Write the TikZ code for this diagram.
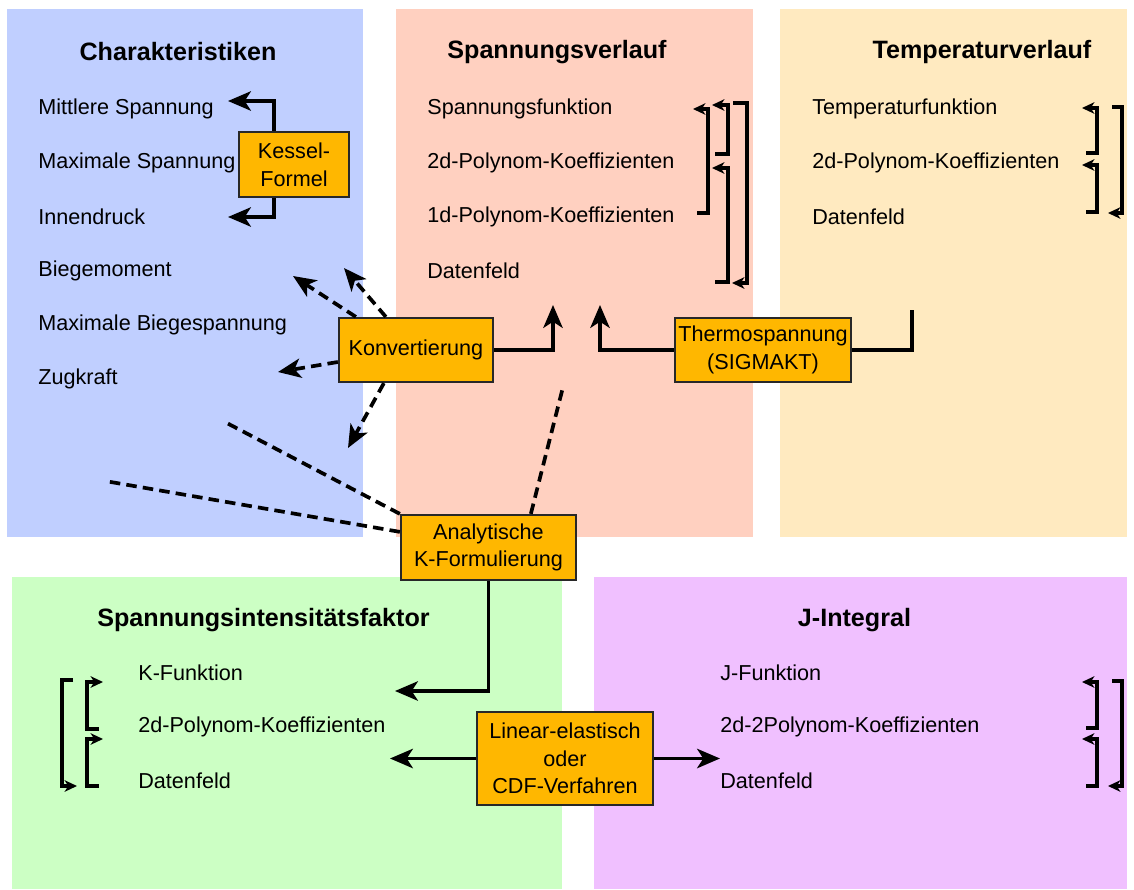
\documentclass[tikz,border=0pt]{standalone}
\usepackage{fontspec}
\setmainfont{Liberation Sans}
\usetikzlibrary{arrows.meta}
\definecolor{charblue}{RGB}{192,207,255}
\definecolor{spansalmon}{RGB}{255,208,192}
\definecolor{temptan}{RGB}{255,234,192}
\definecolor{sifgreen}{RGB}{204,255,196}
\definecolor{jintpurple}{RGB}{240,192,255}
\definecolor{procorange}{RGB}{255,183,0}
\definecolor{procline}{RGB}{40,40,40}
\tikzset{
	head/.style={font=\fontsize{14.3}{16}\selectfont\bfseries},
	item/.style={anchor=west, inner sep=0pt, font=\fontsize{12.3}{14}\selectfont},
	proc/.style={draw=procline, fill=procorange, line width=1.3pt, align=center, inner sep=2pt, font=\fontsize{12.3}{15.8}\selectfont},
	flow/.style={line width=2.1pt, -{Stealth[length=13pt,width=11pt,inset=3.5pt]}},
	conv/.style={flow, dash pattern=on 6pt off 3.5pt},
	link/.style={line width=2.1pt, dash pattern=on 6pt off 3.5pt},
	plain/.style={line width=2.1pt},
	brk/.style={line width=2pt, -{Stealth[length=7pt,width=6.5pt,inset=2pt]}}
}

\begin{document}
\begin{tikzpicture}[x=0.02cm, y=-0.02cm]
	\useasboundingbox (0,0) rectangle (1134,890);
	% panels
	\fill[charblue] (7,9) rectangle (363,537);
	\fill[spansalmon] (396,9) rectangle (753,537);
	\fill[temptan] (780,9) rectangle (1127,537);
	\fill[sifgreen] (12,577) rectangle (562,889);
	\fill[jintpurple] (594,577) rectangle (1127,889);

	% Charakteristiken
	\node[head] (chartitle) at (178,52) {Charakteristiken};
	\node[item] (ms) at (38,109) {Mittlere Spannung};
	\node[item] (mxs) at (38,163) {Maximale Spannung};
	\node[item] (idr) at (38,217) {Innendruck};
	\node[item] (bm) at (38,271) {Biegemoment};
	\node[item] (mbs) at (38,325) {Maximale Biegespannung};
	\node[item] (zk) at (38,379) {Zugkraft};

	% Spannungsverlauf
	\node[head] (spantitle) at (557,52) {Spannungsverlauf};
	\node[item] (sfkt) at (427,109) {Spannungsfunktion};
	\node[item] (spoly2) at (427,163) {2d-Polynom-Koeffizienten};
	\node[item] (spoly1) at (427,217) {1d-Polynom-Koeffizienten};
	\node[item] (sdat) at (427,271) {Datenfeld};

	% Temperaturverlauf
	\node[head] (temptitle) at (982,52) {Temperaturverlauf};
	\node[item] (tfkt) at (812,109) {Temperaturfunktion};
	\node[item] (tpoly) at (812,163) {2d-Polynom-Koeffizienten};
	\node[item] (tdat) at (812,217) {Datenfeld};

	% Spannungsintensitaetsfaktor
	\node[head] (siftitle) at (263.5,620) {Spannungsintensitätsfaktor};
	\node[item] (kfkt) at (138,673) {K-Funktion};
	\node[item] (kpoly) at (138,727) {2d-Polynom-Koeffizienten};
	\node[item] (kdat) at (138,781) {Datenfeld};

	% J-Integral
	\node[head] (jtitle) at (854.5,620) {J-Integral};
	\node[item] (jfkt) at (720,673) {J-Funktion};
	\node[item] (jpoly) at (720,727) {2d-2Polynom-Koeffizienten};
	\node[item] (jdat) at (720,781) {Datenfeld};

	% bracket ends
	\coordinate (sA1) at (697,213); \coordinate (sA2) at (693,109);
	\coordinate (sB1) at (715,154); \coordinate (sB2) at (712,105);
	\coordinate (sC1) at (715,282); \coordinate (sC2) at (712,168);
	\coordinate (sD1) at (733,103); \coordinate (sD2) at (732,283);
	\coordinate (tA1) at (1086,153); \coordinate (tA2) at (1082,108);
	\coordinate (tB1) at (1086,212); \coordinate (tB2) at (1082,165);
	\coordinate (tC1) at (1112,107); \coordinate (tC2) at (1108,213);
	\coordinate (kO1) at (73,680); \coordinate (kO2) at (77,786);
	\coordinate (kA1) at (99,729); \coordinate (kA2) at (103,682);
	\coordinate (kB1) at (99,786); \coordinate (kB2) at (103,739);
	\coordinate (jA1) at (1086,728); \coordinate (jA2) at (1082,682);
	\coordinate (jB1) at (1086,786); \coordinate (jB2) at (1082,739);
	\coordinate (jC1) at (1112,681); \coordinate (jC2) at (1108,786);

	\draw[brk] (sA1) -- ++(11,0) |- (sA2);
	\draw[brk] (sB1) -- ++(13,0) |- (sB2);
	\draw[brk] (sC1) -- ++(13,0) |- (sC2);
	\draw[brk] (sD1) -- ++(14,0) |- (sD2);
	\draw[brk] (tA1) -- ++(11,0) |- (tA2);
	\draw[brk] (tB1) -- ++(11,0) |- (tB2);
	\draw[brk] (tC1) -- ++(10,0) |- (tC2);
	\draw[brk] (kO1) -- ++(-11,0) |- (kO2);
	\draw[brk] (kA1) -- ++(-12,0) |- (kA2);
	\draw[brk] (kB1) -- ++(-12,0) |- (kB2);
	\draw[brk] (jA1) -- ++(11,0) |- (jA2);
	\draw[brk] (jB1) -- ++(11,0) |- (jB2);
	\draw[brk] (jC1) -- ++(10,0) |- (jC2);

	% process boxes
	\node[proc, minimum width=2.2cm, minimum height=1.3cm] (kessel) at (294,164.5) {Kessel-\\Formel};
	\node[proc, minimum width=3.08cm, minimum height=1.28cm] (konv) at (416,350) {Konvertierung};
	\node[proc, minimum width=3.52cm, minimum height=1.28cm] (thermo) at (763,350) {Thermospannung\\(SIGMAKT)};
	\node[proc, minimum width=3.5cm, minimum height=1.3cm] (analyt) at (488.5,547.5) {Analytische\\K-Formulierung};
	\node[proc, minimum width=3.52cm, minimum height=1.86cm] (linel) at (565,758.5) {Linear-elastisch\\oder\\CDF-Verfahren};

	% free ends
	\coordinate (msin) at (228,101);
	\coordinate (idin) at (228,217);
	\coordinate (bmin) at (293,276);
	\coordinate (mbsin) at (344,268);
	\coordinate (zkin) at (278,372);
	\coordinate (lowin) at (348,448);
	\coordinate (spin) at (553,305);
	\coordinate (thin) at (600,305);
	\coordinate (tout) at (912,310);
	\coordinate (aleft) at (223,421);
	\coordinate (afar) at (105,481);
	\coordinate (aspan) at (563,387);
	\coordinate (sifin) at (395,691);
	\coordinate (linl) at (390,758.5);
	\coordinate (linr) at (720,758.5);

	\draw[flow] ([xshift=-0.4cm]kessel.north) |- (msin);
	\draw[flow] ([xshift=-0.4cm]kessel.south) |- (idin);
	\draw[conv] ([xshift=0.36cm]konv.north west) -- (bmin);
	\draw[conv] ([xshift=0.96cm]konv.north west) -- (mbsin);
	\draw[conv] ([yshift=-0.24cm]konv.west) -- (zkin);
	\draw[conv] ([xshift=0.92cm]konv.south west) -- (lowin);
	\draw[flow] (konv.east) -| (spin);
	\draw[flow] (thermo.west) -| (thin);
	\draw[plain] (thermo.east) -| (tout);
	\draw[link] (analyt.north west) -- (aleft);
	\draw[link] ([yshift=-0.36cm]analyt.north west) -- (afar);
	\draw[link] ([xshift=2.62cm]analyt.north west) -- (aspan);
	\draw[flow] (analyt.south) |- (sifin);
	\draw[flow] (linel.west) -- (linl);
	\draw[flow] (linel.east) -- (linr);
\end{tikzpicture}
\end{document}
